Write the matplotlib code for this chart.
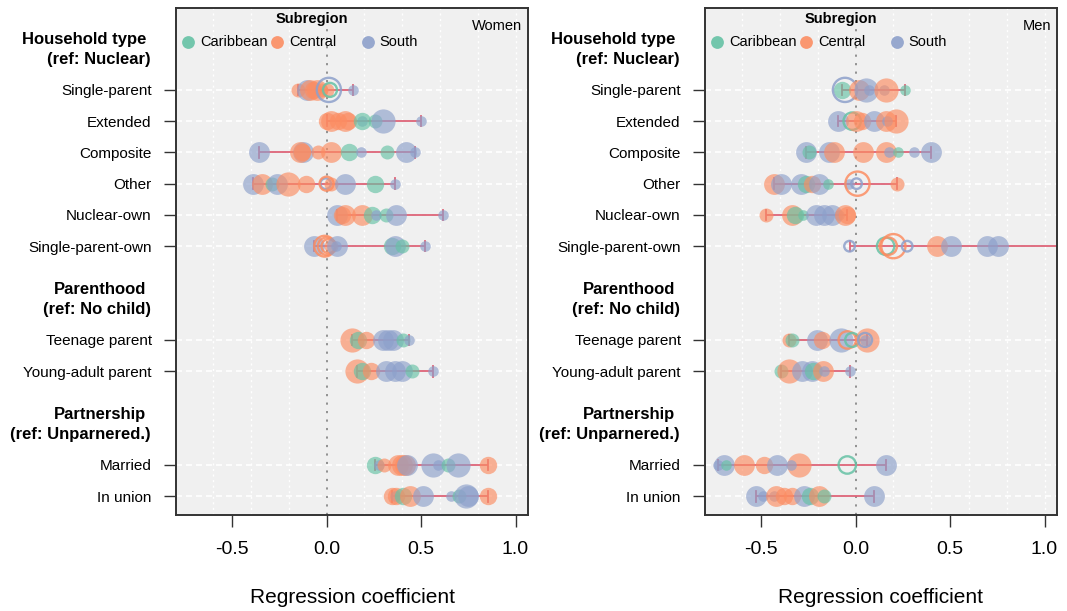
import matplotlib
matplotlib.use("Agg")
import matplotlib.pyplot as plt
from matplotlib.transforms import blended_transform_factory

plt.rcParams['font.family'] = ['Liberation Sans', 'DejaVu Sans']

# ---------------- data ----------------
row_labels = ["Single-parent", "Extended", "Composite", "Other", "Nuclear-own",
              "Single-parent-own", "Teenage parent", "Young-adult parent",
              "Married", "In union"]
group_titles = ["Household type", "Parenthood", "Partnership"]
group_refs = ["(ref: Nuclear)", "(ref: No child)", "(ref: Unparnered.)"]
group_sizes = [6, 2, 2]
subregions = ["Caribbean", "Central", "South"]
region_codes = ["C", "M", "S"]
panel_titles = ["Women", "Men"]
x_ticks = [-0.5, 0.0, 0.5, 1.0]

# Women: coefficient per country, subregion code, sample weight (1-5), open marker flag
women_coef = [
    [-0.15, -0.105, -0.09, -0.07, -0.05, -0.03, 0.0, 0.012, 0.018, 0.14],
    [0.0, 0.026, 0.06, 0.097, 0.115, 0.185, 0.19, 0.256, 0.30, 0.50],
    [-0.356, -0.125, -0.14, -0.13, -0.044, 0.026, 0.118, 0.18, 0.32, 0.42, 0.467],
    [-0.388, -0.344, -0.29, -0.265, -0.203, -0.11, -0.005, 0.0, 0.023, 0.10, 0.256, 0.36],
    [0.053, 0.08, 0.097, 0.185, 0.238, 0.26, 0.314, 0.365, 0.614],
    [-0.068, -0.01, 0.0, 0.01, 0.026, 0.056, 0.05, 0.344, 0.36, 0.40, 0.52],
    [0.132, 0.164, 0.206, 0.30, 0.326, 0.353, 0.406, 0.437],
    [0.159, 0.185, 0.235, 0.317, 0.36, 0.40, 0.453, 0.564],
    [0.256, 0.28, 0.305, 0.38, 0.40, 0.415, 0.423, 0.564, 0.59, 0.64, 0.697, 0.855],
    [0.344, 0.36, 0.37, 0.406, 0.44, 0.51, 0.66, 0.70, 0.74, 0.75, 0.855],
]
women_region = [
    "MSMMMMMSCS",
    "MMMMMSCCSS",
    "SSMMMMCSCSS",
    "SMCSMMSMMSCS",
    "SMMMCSCSS",
    "SMMMMSSCSCS",
    "MCMSSSCS",
    "MCMSSSCS",
    "CSMMMMSSSCSM",
    "MSMCMSSCSSM",
]
women_weight = [
    [2, 4, 4, 3, 4, 2, 2, 5, 2, 1],
    [3, 4, 3, 4, 3, 1, 3, 2, 5, 1],
    [4, 4, 4, 3, 2, 4, 3, 1, 2, 4, 1],
    [4, 4, 2, 4, 5, 3, 1, 2, 2, 4, 3, 1],
    [4, 3, 4, 4, 3, 1, 2, 4, 1],
    [4, 4, 3, 2, 2, 4, 1, 3, 4, 2, 1],
    [5, 3, 3, 4, 4, 4, 2, 1],
    [5, 3, 3, 4, 4, 4, 2, 1],
    [3, 1, 2, 4, 4, 4, 4, 5, 1, 2, 5, 3],
    [3, 1, 3, 3, 4, 4, 1, 2, 5, 4, 3],
]
women_open = [
    "0000000110",
    "0000000000",
    "00000000000",
    "000000110000",
    "000000000",
    "01110000000",
    "00000000",
    "00000000",
    "000000000000",
    "00000000000",
]

men_coef = [
    [-0.07, -0.056, 0.018, 0.053, 0.07, 0.15, 0.159, 0.26],
    [-0.092, -0.018, 0.0, 0.035, 0.097, 0.159, 0.168, 0.215],
    [-0.26, -0.247, -0.141, -0.115, 0.04, 0.159, 0.176, 0.226, 0.31, 0.40],
    [-0.432, -0.397, -0.29, -0.265, -0.233, -0.194, -0.145, -0.035, 0.005, 0.01, 0.22],
    [-0.476, -0.335, -0.32, -0.277, -0.21, -0.168, -0.127, -0.088, -0.056, -0.044],
    [-0.032, 0.159, 0.173, 0.20, 0.273, 0.432, 0.503, 0.693, 0.755, 1.25],
    [-0.353, -0.339, -0.203, -0.176, -0.079, -0.044, -0.018, 0.062, 0.049, 0.05],
    [-0.397, -0.353, -0.282, -0.229, -0.226, -0.173, -0.168, -0.032],
    [-0.728, -0.697, -0.688, -0.59, -0.485, -0.414, -0.30, -0.344, -0.044, 0.159],
    [-0.529, -0.49, -0.432, -0.423, -0.38, -0.335, -0.273, -0.243, -0.194, -0.168, 0.097],
]
men_region = [
    "CSMSSSMC",
    "SCMMSMSM",
    "SCSMMMSCSS",
    "MSSCMSCSSMM",
    "MMCCSSSSMM",
    "SCMMSMSSSS",
    "MCSMSMCMSS",
    "CMSSCMSS",
    "SSCMMSMSCS",
    "SSSMMMSCMCS",
]
men_weight = [
    [3, 5, 4, 5, 1, 1, 5, 1],
    [4, 3, 4, 3, 4, 4, 1, 5],
    [4, 2, 4, 4, 4, 4, 1, 1, 1, 4],
    [4, 4, 4, 3, 3, 4, 1, 1, 1, 5, 2],
    [2, 4, 3, 1, 4, 4, 4, 1, 4, 3],
    [1, 3, 3, 5, 1, 4, 4, 4, 4, 1],
    [2, 2, 4, 3, 5, 3, 2, 5, 1, 2],
    [2, 5, 4, 4, 3, 4, 1, 1],
    [1, 4, 1, 4, 3, 4, 5, 1, 3, 4],
    [4, 1, 1, 4, 3, 3, 4, 3, 4, 2, 4],
]
men_open = [
    "01000000",
    "01000000",
    "0000000000",
    "00000000110",
    "0000000000",
    "1111100000",
    "0000011001",
    "00000000",
    "0000000010",
    "00000000000",
]

# ---------------- style ----------------
palette = {"C": "#66c2a5", "M": "#fc8d62", "S": "#8da0cb"}
range_color = "#dd6478"
bg = "#f0f0f0"
W, H = 1067, 611
PX = 72.0 / 100.0  # points per pixel at dpi 100


def marker_area(w):
    radius_px = 3.6 + 1.7 * w
    return (2 * radius_px * PX) ** 2


# row positions: groups separated by a two-row gap
positions = []
group_starts = []
k = 0
for g, n in enumerate(group_sizes):
    start = k + 2 * g
    group_starts.append(start)
    for i in range(n):
        positions.append(start + i)
    k += n

fig = plt.figure(figsize=(W / 100, H / 100), dpi=100)
ax_left = [176 / W, 705 / W]
ax_w = 352 / W
ax_b = 1 - 515 / H
ax_h = 507 / H

panels = [
    (women_coef, women_region, women_weight, women_open),
    (men_coef, men_region, men_weight, men_open),
]

for p, (coef, reg, wt, opn) in enumerate(panels):
    ax = fig.add_axes([ax_left[p], ax_b, ax_w, ax_h])
    ax.set_facecolor(bg)
    ax.set_xlim(-0.797, 1.066)
    ax.set_ylim(13.6, -2.62)

    # grid
    for gx in [-0.6, -0.4, -0.2, 0.2, 0.4, 0.6, 0.8, 1.0]:
        ax.axvline(gx, color="white", lw=1.0, ls=(0, (1.5, 2.5)), zorder=0.5)
    for y in positions:
        ax.axhline(y, color="white", lw=1.2, ls=(0, (3.6, 2.4)), zorder=0.5)
    ax.axvline(0, color="#8a8a8a", lw=1.3, ls=(0, (1.2, 3.5)), zorder=1)

    for r, y in enumerate(positions):
        xs = coef[r]
        lo, hi = min(xs), max(xs)
        ax.plot([lo, hi], [y, y], color=range_color, lw=1.3, zorder=2,
                solid_capstyle="butt")
        for xe in (lo, hi):
            ax.plot([xe, xe], [y - 0.17, y + 0.17], color=range_color, lw=1.3, zorder=2)
        for x, c, w, o in zip(xs, reg[r], wt[r], opn[r]):
            if o == "1":
                ax.scatter([x], [y], s=marker_area(w), facecolors="none",
                           edgecolors=palette[c], linewidths=1.7, alpha=0.85, zorder=3)
            else:
                ax.scatter([x], [y], s=marker_area(w), color=palette[c],
                           alpha=0.65, linewidths=0, zorder=3)

    # axes styling
    for sp in ax.spines.values():
        sp.set_color("#333333")
        sp.set_linewidth(1.4)
    ax.set_xticks(x_ticks)
    ax.set_xticklabels([f"{t:.1f}" for t in x_ticks])
    ax.tick_params(axis="x", length=8.5, width=1.0, color="#333333",
                   labelsize=14, pad=10)
    ax.set_yticks(positions)
    ax.set_yticklabels(row_labels)
    ax.tick_params(axis="y", length=8.5, width=1.0, color="#333333",
                   labelsize=11, pad=9)
    ax.set_xlabel("Regression coefficient", fontsize=15, labelpad=22)

    trans = blended_transform_factory(ax.transAxes, ax.transData)
    for g, start in enumerate(group_starts):
        ax.annotate(group_titles[g], xy=(0, start - 1.6), xycoords=trans,
                    xytext=(-30 * PX, 0), textcoords="offset points",
                    ha="right", va="center", fontsize=12, fontweight="bold",
                    annotation_clip=False)
        ax.annotate(group_refs[g], xy=(0, start - 0.97), xycoords=trans,
                    xytext=(-25 * PX, 0), textcoords="offset points",
                    ha="right", va="center", fontsize=12, fontweight="bold",
                    annotation_clip=False)

    # panel label
    ax.text(0.983, 0.964, panel_titles[p], transform=ax.transAxes,
            ha="right", va="center", fontsize=10.5)

    # legend (manual)
    ax.text(0.386, 0.979, "Subregion", transform=ax.transAxes, ha="center",
            va="center", fontsize=10.5, fontweight="bold")
    leg_x = [0.034, 0.287, 0.545]
    for i, code in enumerate(region_codes):
        ax.scatter([leg_x[i]], [0.933], s=85, color=palette[code], alpha=0.9,
                   linewidths=0, transform=ax.transAxes, zorder=4, clip_on=False)
        ax.text(leg_x[i] + 0.034, 0.933, subregions[i], transform=ax.transAxes,
                ha="left", va="center", fontsize=10.5)

fig.savefig("out.png", dpi=100, facecolor="white")
